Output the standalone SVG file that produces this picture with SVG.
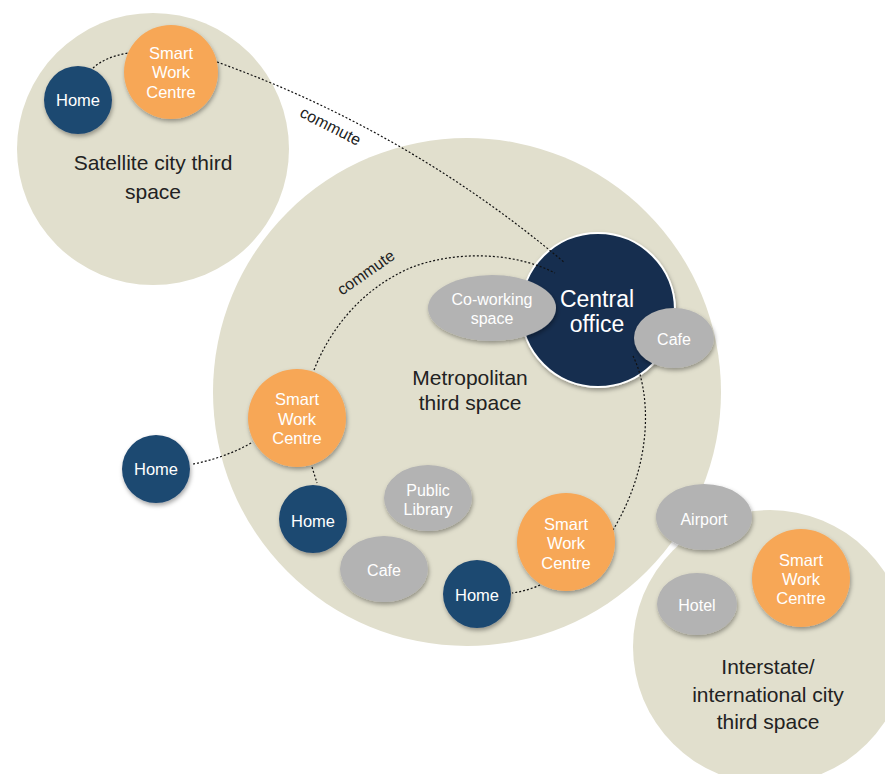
<svg xmlns="http://www.w3.org/2000/svg" width="885" height="774" viewBox="0 0 885 774">
<defs>
<filter id="sh" x="-30%" y="-30%" width="160%" height="170%">
<feDropShadow dx="1" dy="2.5" stdDeviation="2" flood-color="#000" flood-opacity="0.35"/>
</filter>
<style>
.area{fill:#E1DFCD;}
.home{fill:#1F4871;filter:url(#sh);}
.swc{fill:#F7A757;filter:url(#sh);}
.grey{fill:#B3B3B3;filter:url(#sh);}
.office{fill:#152F4F;stroke:#fff;stroke-width:2;filter:url(#sh);}
.nt{font-family:"Liberation Sans",Arial,sans-serif;font-size:16.5px;fill:#fff;text-anchor:middle;}
.gt{font-family:"Liberation Sans",Arial,sans-serif;font-size:16px;fill:#fff;text-anchor:middle;}
.at{font-family:"Liberation Sans",Arial,sans-serif;font-size:21px;fill:#222;text-anchor:middle;}
.ct{font-family:"Liberation Sans",Arial,sans-serif;font-size:16px;fill:#222;text-anchor:middle;}
.conn{fill:none;stroke:#111;stroke-width:1.2;stroke-dasharray:2 2;}
</style>
</defs>
<rect width="885" height="774" fill="#fff"/>
<g id="satellite-area">
<circle class="area" cx="153" cy="149" r="136"/>
<text class="at" x="153" y="170">Satellite city third</text>
<text class="at" x="153" y="199">space</text>
</g>
<g id="metro-area">
<circle class="area" cx="467" cy="392" r="254"/>
<text class="at" x="470" y="385">Metropolitan</text>
<text class="at" x="470" y="410">third space</text>
</g>
<g id="interstate-area">
<circle class="area" cx="770" cy="647" r="137"/>
<text class="at" x="768" y="674">Interstate/</text>
<text class="at" x="768" y="702">international city</text>
<text class="at" x="768" y="729">third space</text>
</g>
<g id="central-office">
<circle class="office" cx="598" cy="310" r="77"/>
<text class="nt" style="font-size:23px" x="597" y="307">Central</text>
<text class="nt" style="font-size:23px" x="597" y="332">office</text>
</g>
<g id="connectors">
<path class="conn" d="M93,68 Q105,57 128,53"/>
<path class="conn" d="M217,62 Q409,131 565,263"/>
<path class="conn" d="M314,370 C330,330 360,290 410,268 C450,252 510,250 555,273"/>
<path class="conn" d="M633,356 C650,390 655,460 613,530"/>
<path class="conn" d="M540,585 Q527,591 512,593"/>
<path class="conn" d="M193,464 Q225,458 253,442"/>
<path class="conn" d="M312,467 L317,483"/>
<text class="ct" transform="translate(328,131) rotate(27)">commute</text>
<text class="ct" transform="translate(369,277) rotate(-35)">commute</text>
</g>
<g id="sat-home">
<circle class="home" cx="78" cy="100" r="34"/>
<text class="nt" x="78" y="106">Home</text>
</g>
<g id="sat-swc">
<circle class="swc" cx="171" cy="72" r="47"/>
<text class="nt" x="171" y="59">Smart</text>
<text class="nt" x="171" y="78">Work</text>
<text class="nt" x="171" y="98">Centre</text>
</g>
<g id="coworking">
<ellipse class="grey" cx="492" cy="308" rx="64" ry="33"/>
<text class="gt" x="492" y="305">Co-working</text>
<text class="gt" x="492" y="324">space</text>
</g>
<g id="cafe-central">
<ellipse class="grey" cx="674" cy="338" rx="40" ry="30"/>
<text class="gt" x="674" y="345">Cafe</text>
</g>
<g id="outer-home">
<circle class="home" cx="156" cy="469" r="34"/>
<text class="nt" x="156" y="475">Home</text>
</g>
<g id="metro-swc">
<circle class="swc" cx="297" cy="418" r="49"/>
<text class="nt" x="297" y="405">Smart</text>
<text class="nt" x="297" y="425">Work</text>
<text class="nt" x="297" y="444">Centre</text>
</g>
<g id="metro-home-1">
<circle class="home" cx="313" cy="519" r="34"/>
<text class="nt" x="313" y="527">Home</text>
</g>
<g id="public-library">
<ellipse class="grey" cx="428" cy="498" rx="44" ry="33"/>
<text class="gt" x="428" y="496">Public</text>
<text class="gt" x="428" y="515">Library</text>
</g>
<g id="metro-cafe">
<ellipse class="grey" cx="384" cy="569" rx="44" ry="33"/>
<text class="gt" x="384" y="576">Cafe</text>
</g>
<g id="metro-home-2">
<circle class="home" cx="477" cy="594" r="34"/>
<text class="nt" x="477" y="601">Home</text>
</g>
<g id="metro-swc-2">
<circle class="swc" cx="566" cy="542" r="49"/>
<text class="nt" x="566" y="530">Smart</text>
<text class="nt" x="566" y="549">Work</text>
<text class="nt" x="566" y="569">Centre</text>
</g>
<g id="airport">
<ellipse class="grey" cx="704" cy="517" rx="48" ry="33"/>
<text class="gt" x="704" y="525">Airport</text>
</g>
<g id="hotel">
<ellipse class="grey" cx="697" cy="604" rx="40" ry="31"/>
<text class="gt" x="697" y="611">Hotel</text>
</g>
<g id="interstate-swc">
<circle class="swc" cx="801" cy="578" r="49"/>
<text class="nt" x="801" y="566">Smart</text>
<text class="nt" x="801" y="585">Work</text>
<text class="nt" x="801" y="604">Centre</text>
</g>
</svg>
